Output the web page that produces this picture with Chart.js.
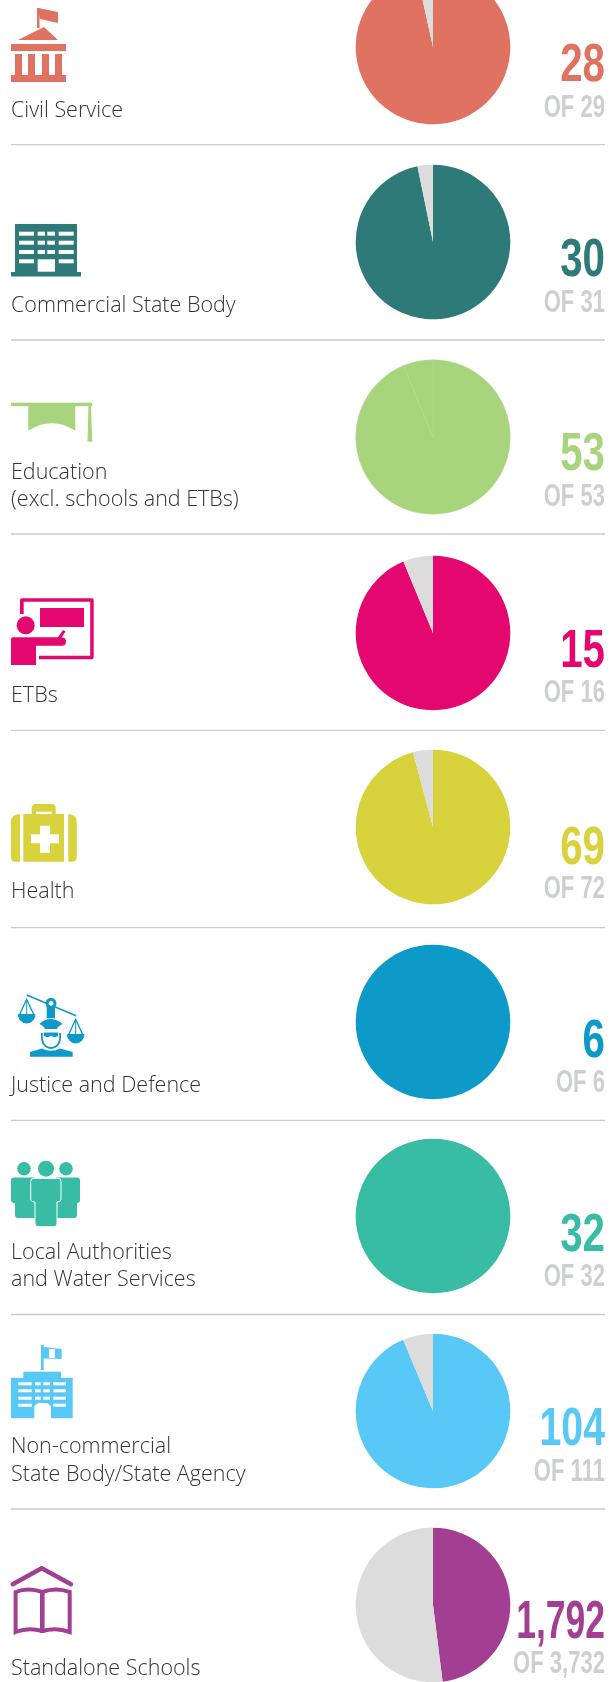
<!DOCTYPE html>
<html>
<head>
<meta charset="utf-8">
<script src="https://cdn.jsdelivr.net/npm/chart.js@4"></script>
<style>
  html, body { margin: 0; padding: 0; background: #fff; }
  #page { position: relative; width: 613px; height: 1682px; overflow: hidden; }
  #page canvas { position: absolute; }
  #overlay { position: absolute; left: 0; top: 0; z-index: 2; }
  .label { font-family: "Open Sans", sans-serif; font-weight: 300; font-size: 21.5px; fill: #333; }
  .count { font-family: "Liberation Sans", sans-serif; font-weight: 700; font-size: 53px; text-anchor: end; }
  .total { font-family: "Liberation Sans", sans-serif; font-weight: 700; font-size: 32px; text-anchor: end; fill: #cdcfd0; }
</style>
</head>
<body>
<div id="page">
  <svg id="overlay" width="613" height="1682" xmlns="http://www.w3.org/2000/svg"></svg>
</div>
<script>
// data
const categories = [
  ['Civil Service'],
  ['Commercial State Body'],
  ['Education', '(excl. schools and ETBs)'],
  ['ETBs'],
  ['Health'],
  ['Justice and Defence'],
  ['Local Authorities', 'and Water Services'],
  ['Non-commercial', 'State Body/State Agency'],
  ['Standalone Schools']
];
const countLabels = ['28', '30', '53', '15', '69', '6', '32', '104', '1,792'];
const totalLabels = ['OF 29', 'OF 31', 'OF 53', 'OF 16', 'OF 72', 'OF 6', 'OF 32', 'OF 111', 'OF 3,732'];
const filled = [28, 30, 49.7, 15, 69, 6, 32, 104, 1792];
// education's wedge is in the picture too, only in the same green
const remainder = [1, 1, 3.3, 1, 3, 0, 0, 7, 1940];

// colours
const colours = ['#df7261', '#2d7a78', '#a8d47e', '#e4076f', '#d8d23c', '#0e9ac9', '#38bca4', '#58c8f6', '#a23f93'];
const remainderColours = ['#dcdcdc', '#dcdcdc', '#a8d47e', '#dcdcdc', '#dcdcdc', '#dcdcdc', '#dcdcdc', '#dcdcdc', '#dcdcdc'];

// layout
const pieTop = [-33, 162, 357, 553, 747, 942, 1136, 1331, 1525];
const labelBaselines = [[117], [312], [479, 506], [702], [898], [1092], [1259, 1286], [1453, 1481], [1675]];
const countBaselines = [81, 276, 470, 667, 864, 1057, 1251, 1445, 1638];
const totalBaselines = [117, 312, 506, 702, 898, 1092, 1286, 1481, 1673];
const countSqueeze = [0.76, 0.76, 0.76, 0.76, 0.76, 0.76, 0.76, 0.74, 0.67];
const totalSqueeze = 0.69;
const ruleY = [144.7, 340, 534, 730.3, 927.7, 1120.4, 1314.5, 1509];
const rightEdge = 605;

const overlay = document.getElementById('overlay');
const page = document.getElementById('page');

function addText(cls, y, str, squeeze, fill) {
  const t = document.createElementNS('http://www.w3.org/2000/svg', 'text');
  t.setAttribute('class', cls);
  if (squeeze) {
    t.setAttribute('transform', `translate(${rightEdge} ${y}) scale(${squeeze} 1)`);
  } else {
    t.setAttribute('x', 11);
    t.setAttribute('y', y);
  }
  if (fill) t.setAttribute('fill', fill);
  t.textContent = str;
  overlay.appendChild(t);
}

categories.forEach(function (lines, i) {
  const canvas = document.createElement('canvas');
  canvas.width = 160;
  canvas.height = 160;
  canvas.style.left = '353px';
  canvas.style.top = pieTop[i] + 'px';
  page.appendChild(canvas);

  new Chart(canvas, {
    type: 'pie',
    data: {
      labels: ['Filled', 'Remainder'],
      datasets: [{
        data: [filled[i], remainder[i]],
        backgroundColor: [colours[i], remainderColours[i]],
        borderWidth: remainderColours[i] === colours[i] ? 0.4 : 0,
        borderColor: '#b6dc92'
      }]
    },
    options: {
      responsive: false,
      animation: false,
      radius: 77.3,
      plugins: { legend: { display: false }, tooltip: { enabled: false } }
    }
  });

  lines.forEach(function (line, j) {
    addText('label', labelBaselines[i][j], line);
  });
  addText('count', countBaselines[i], countLabels[i], countSqueeze[i], colours[i]);
  addText('total', totalBaselines[i], totalLabels[i], totalSqueeze);
});

// icons, hand drawn
let icons = '';
ruleY.forEach(function (y) {
  icons += `<line x1="11" x2="${rightEdge}" y1="${y}" y2="${y}" stroke="#cbcbcb" stroke-width="1.3"/>`;
});

function bars(xs, ys, w, h, extra) {
  let s = '';
  ys.forEach(function (y) {
    xs.forEach(function (x, k) { s += `<rect x="${x}" y="${y}" width="${w[k]}" height="${h}" fill="#fff"/>`; });
  });
  return s + (extra || '');
}

// civil service
icons += `<g fill="${colours[0]}">
  <rect x="37" y="8" width="2.5" height="20"/>
  <path d="M38 8 L58 12 L58 23 L40 19 Z"/>
  <path d="M18 40 L44 27 L58 40 Z"/>
  <rect x="11" y="44" width="55" height="7"/>
  <rect x="15" y="54" width="7" height="21"/><rect x="28" y="54" width="7" height="21"/>
  <rect x="42" y="54" width="7" height="21"/><rect x="55" y="54" width="7" height="21"/>
  <rect x="11" y="75" width="55" height="7"/></g>`;

// commercial state body
icons += `<g fill="${colours[1]}"><rect x="15" y="224" width="62" height="49"/><rect x="11" y="272" width="70" height="4.5"/></g>`;
icons += bars([19, 37.7, 47.3, 58.7], [231.7, 240.7, 250], [15, 7.3, 7.7, 15], 4);
icons += bars([19, 58.7], [259.3], [15, 15], 4, '<rect x="37.7" y="259.3" width="17.3" height="12.4" fill="#fff"/>');

// education
icons += `<g fill="${colours[2]}">
  <rect x="11" y="402.7" width="81.3" height="3.5"/>
  <path d="M28.3 406 H75.3 V430.7 Q52 416 28.3 430.7 Z"/>
  <path d="M88.5 406 H91 L92.3 441.7 H87.5 Z"/></g>`;

// ETBs
icons += `<g fill="${colours[3]}">
  <path d="M20 614 V600 Q20 598.3 22 598.3 H92 Q93.7 598.3 93.7 600 V657 Q93.7 659.3 92 659.3 H39 V655.7 H90.2 V601.8 H23.7 V614 Z"/>
  <rect x="40" y="608" width="44" height="19"/>
  <circle cx="25.7" cy="625.3" r="9"/>
  <path d="M13 637.3 H58 L63 630 L65.5 631.5 L61.5 637.5 H63 Q66 638 66 641.5 Q66 645.7 62 645.7 H36 V665 H11 V639.5 Q11 637.3 13 637.3 Z"/></g>`;

// health
icons += `<g fill="${colours[4]}">
  <path d="M20 814 V861.7 H15 Q11 861.7 11 857 V821 Q11 815 20 814 Z"/>
  <path d="M68.3 814 V861.7 H72 Q76.7 861.7 76.7 857 V821 Q76.7 815 68.3 814 Z"/>
  <path d="M23.3 814 H31.7 V808 Q31.7 804 36 804 H51 Q55.7 804 55.7 808 V814 H64 V861.7 H23.3 Z"/>
  <rect x="36" y="811.7" width="15.7" height="2.4" fill="#fff"/>
  <path d="M40 825.7 H50 V834.3 H59 V843.3 H50 V852.7 H40 V843.3 H31 V834.3 H40 Z" fill="#fff"/></g>`;

// justice and defence
icons += `<g fill="${colours[5]}" stroke="none">
  <line x1="26.7" y1="995" x2="76" y2="1015.7" stroke="${colours[5]}" stroke-width="1.6"/>
  <circle cx="51" cy="1003.3" r="5.5"/><rect x="46.7" y="1003.3" width="8.3" height="15"/>
  <circle cx="51" cy="1003.3" r="2.4" fill="#fff"/>
  <path d="M26.7 999.3 L19 1016 H34.4 Z" fill="none" stroke="${colours[5]}" stroke-width="1.4"/>
  <line x1="26.7" y1="1000" x2="26.7" y2="1016" stroke="${colours[5]}" stroke-width="1"/>
  <path d="M18 1014 H35.4 A8.7 9.5 0 0 1 18 1014 Z"/>
  <path d="M75.7 1019.3 L68 1036 H83.4 Z" fill="none" stroke="${colours[5]}" stroke-width="1.4"/>
  <line x1="75.7" y1="1020" x2="75.7" y2="1036" stroke="${colours[5]}" stroke-width="1"/>
  <path d="M67 1034 H84.4 A8.7 9.5 0 0 1 67 1034 Z"/>
  <path d="M39.3 1024 Q50 1014 62.7 1024 Q58 1026 57 1029 H45 Q44 1026 39.3 1024 Z"/>
  <path d="M42 1033 Q40.5 1047 51 1048 Q61.5 1047 60 1033" fill="none" stroke="${colours[5]}" stroke-width="1.8"/>
  <path d="M44 1032.5 H58 V1036 Q54.5 1038.5 51 1035.5 Q47.5 1038.5 44 1036 Z"/>
  <path d="M30 1056.7 V1052 L42 1048.5 Q51 1053 60 1048.5 L72.7 1052 V1056.7 Z"/></g>`;

// local authorities
icons += `<g fill="${colours[6]}" stroke="#fff" stroke-width="0">
  <circle cx="24" cy="1168.7" r="6.8"/><circle cx="46" cy="1168.7" r="8"/><circle cx="66" cy="1168.7" r="6.8"/>
  <path d="M14 1177.5 H35 V1218 H18 Q15 1218 15 1215 V1203 H14 Q11 1203 11 1200 V1180.5 Q11 1177.5 14 1177.5 Z"/>
  <path d="M77 1177.5 H56 V1218 H74 Q77 1218 77 1215 V1203 H77 Q80 1203 80 1200 V1180.5 Q80 1177.5 77 1177.5 Z"/>
  <path d="M34 1178.3 H58 Q61 1178.3 61 1181.3 V1199 Q61 1202 57 1202 V1223.7 Q57 1226.7 54 1226.7 H38 Q35 1226.7 35 1223.7 V1202 Q30.7 1202 30.7 1199 V1181.3 Q30.7 1178.3 34 1178.3 Z" stroke-width="1"/></g>`;

// non-commercial state body
icons += `<g fill="${colours[7]}">
  <path d="M41 1345 H43.7 V1347 L61.7 1349 V1359 L43.7 1358.5 V1370 H41 Z"/>
  <rect x="49" y="1349" width="6" height="9" fill="#fff"/>
  <rect x="23.3" y="1371.7" width="37.7" height="6.5"/>
  <path d="M11 1377.7 H72.7 V1418.3 H51 V1406 L47 1403 H38.3 L34.3 1406 V1418.3 H11 Z"/></g>`;
icons += bars([18.3, 35, 43.3, 53.3], [1382.3, 1389.3, 1396.7], [13.4, 5.7, 6.7, 12.7], 3);
icons += bars([18.3, 53.3], [1403.7], [13.4, 12.7], 3);

// standalone schools
icons += `<g fill="none" stroke="${colours[8]}" stroke-width="4">
  <path d="M12.7 1584.3 L41.7 1568.3 L71 1584.3" stroke-width="4.4" stroke-linecap="round" stroke-linejoin="round"/>
  <path d="M15.6 1632 V1592 Q28 1587 42.3 1592 Q56 1587 69.7 1592 V1632 Q56 1627 42.3 1631 Q28 1627 15.6 1632 Z"/>
  <line x1="42.3" y1="1591" x2="42.3" y2="1633" stroke-width="4.6"/></g>`;

overlay.insertAdjacentHTML('afterbegin', icons);
</script>
</body>
</html>
